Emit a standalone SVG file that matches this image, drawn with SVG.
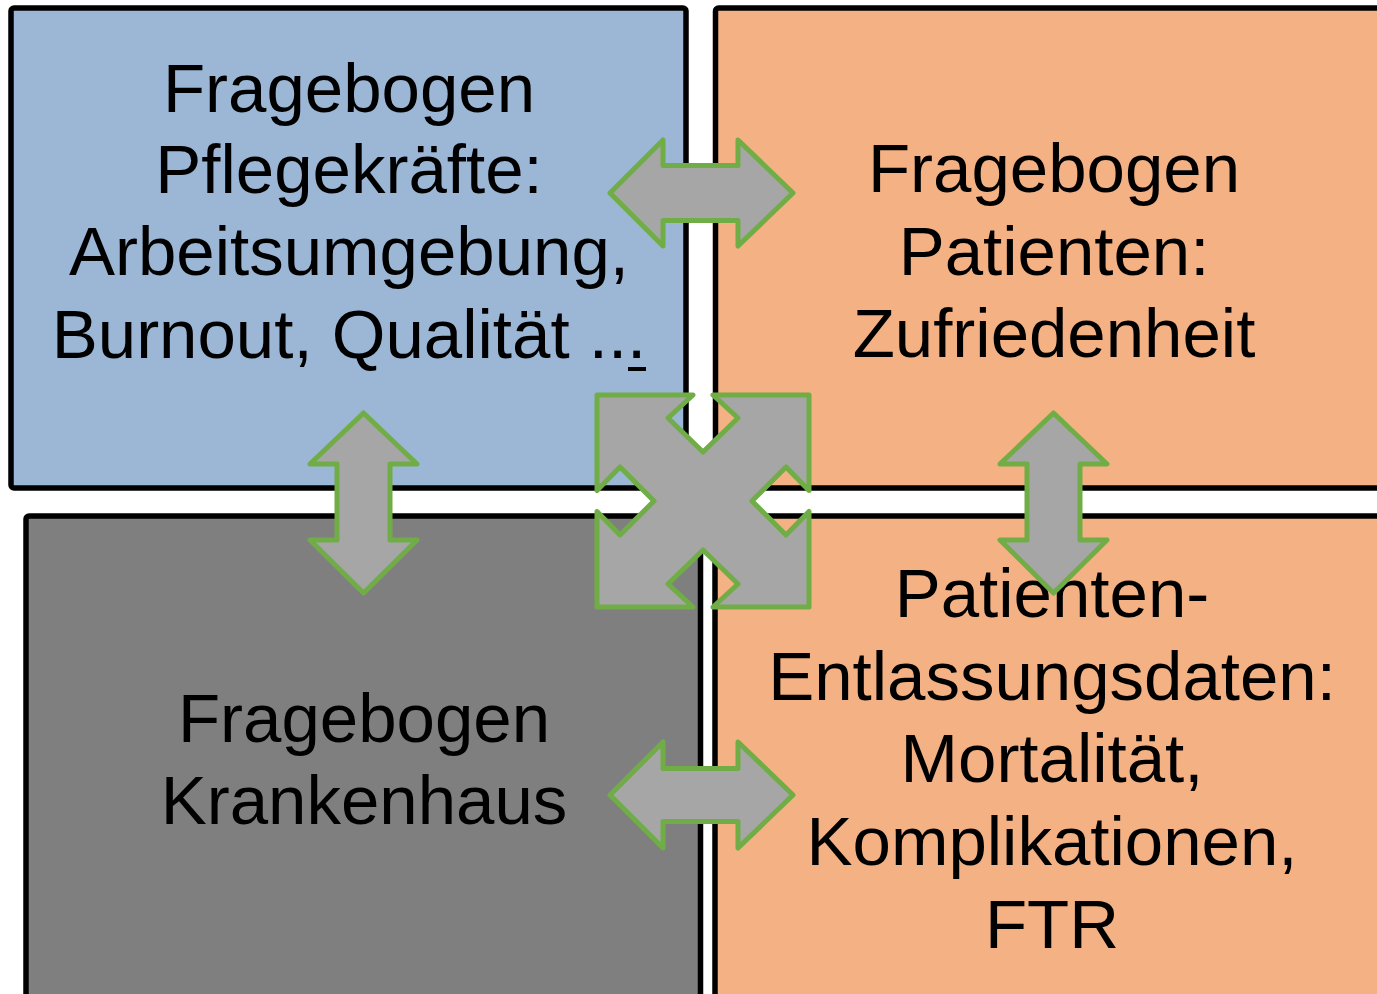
<svg xmlns="http://www.w3.org/2000/svg" width="1377" height="994" viewBox="0 0 1377 994">
<style>
.box{stroke:#000;stroke-width:5.5}
.blue{fill:#9BB7D5}
.orange{fill:#F4B183}
.gray{fill:#7F7F7F}
.t{font-family:"Liberation Sans",Arial,sans-serif;font-size:69px;fill:#000;text-anchor:middle}
.arr{fill:#A6A6A6;stroke:#70AD47;stroke-width:5;stroke-linejoin:round}
</style>
<rect width="1377" height="994" fill="#fff"/>
<g id="node-pflege">
<rect class="box blue" x="11" y="8" width="675" height="480" rx="3"/>
<text class="t" x="349" y="112">Fragebogen</text>
<text class="t" x="349" y="193">Pflegekräfte:</text>
<text class="t" x="349" y="275">Arbeitsumgebung,</text>
<text class="t" x="349" y="358">Burnout, Qualität ...</text>
<rect x="628" y="367" width="18" height="4" fill="#000"/>
</g>
<g id="node-patienten">
<rect class="box orange" x="715.5" y="8" width="680" height="480" rx="3"/>
<text class="t" x="1054" y="192">Fragebogen</text>
<text class="t" x="1054" y="275">Patienten:</text>
<text class="t" x="1054" y="357">Zufriedenheit</text>
</g>
<g id="node-krankenhaus">
<rect class="box gray" x="26" y="516" width="674.5" height="500" rx="3"/>
<text class="t" x="364" y="742">Fragebogen</text>
<text class="t" x="364" y="824">Krankenhaus</text>
</g>
<g id="node-entlassung">
<rect class="box orange" x="715" y="516" width="680" height="500" rx="3"/>
<text class="t" x="1052" y="617">Patienten-</text>
<text class="t" x="1052" y="700">Entlassungsdaten:</text>
<text class="t" x="1052" y="782">Mortalität,</text>
<text class="t" x="1052" y="865">Komplikationen,</text>
<text class="t" x="1052" y="948">FTR</text>
</g>
<g id="connectors">
<polygon class="arr" points="610,193 663,140 663,165.5 738,165.5 738,140 793,193 738,246 738,220.5 663,220.5 663,246"/>
<polygon class="arr" points="610,795 663,742 663,768.5 738,768.5 738,742 793,795 738,848 738,821.5 663,821.5 663,848"/>
<polygon class="arr" points="363.5,413 417,464 390,464 390,540 417,540 363.5,593 310,540 337,540 337,464 310,464"/>
<polygon class="arr" points="1053.5,413 1107,464 1080,464 1080,540 1107,540 1053.5,593 1000,540 1027,540 1027,464 1000,464"/>
<polygon class="arr" points="597,395 693,395 668,418 703,452 738,418 713,395 809,395 809,490.5 786,467 752,501 786,535 809,511.5 809,607 713,607 738,584 703,550 668,584 693,607 597,607 597,511.5 620,535 654,501 620,467 597,490.5"/>
</g>
</svg>
